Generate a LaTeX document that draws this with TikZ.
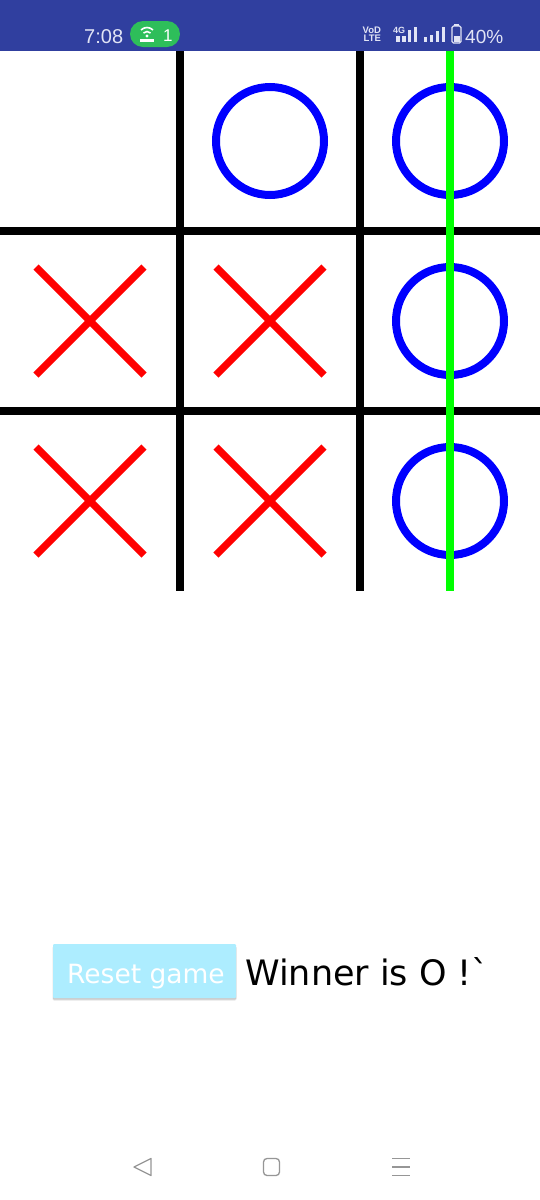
\documentclass[tikz,border=0pt]{standalone}
\usepackage{xcolor}
\usepackage{fontspec}
\setmainfont{Liberation Sans}
\newfontfamily\handfont{DejaVu Sans}
\definecolor{barblue}{RGB}{48,63,159}
\definecolor{pillgreen}{RGB}{46,190,90}
\definecolor{barwhite}{RGB}{225,228,245}
\definecolor{resetblue}{RGB}{173,237,255}
\definecolor{navgray}{RGB}{150,150,150}
\definecolor{winline}{RGB}{0,255,0}
\begin{document}
\begin{tikzpicture}[x=1pt,y=-1pt,
  gridline/.style={line width=8pt,black},
  oh/.style={line width=8pt,blue},
  ex/.style={line width=7.2pt,red},
  navline/.style={line width=1.3pt,navgray},
  bartext/.style={text=barwhite,inner sep=0pt,anchor=base west},
  barbit/.style={fill=barwhite,draw=none}]
\useasboundingbox (0,0) rectangle (540,1200);
\fill[white] (0,0) rectangle (540,1200);
% status bar
\fill[barblue] (0,0) rectangle (540,51);
\node[bartext,font=\fontsize{20}{20}\selectfont] (clock) at (84,43) {7:08};
\fill[pillgreen,rounded corners=13pt] (130,21) rectangle (180,47);
\draw[white,line width=1.6pt] (141,30) arc (-135:-45:8.5);
\draw[white,line width=1.6pt] (143.5,33) arc (-135:-45:5);
\fill[white] (147,36) circle (1.6);
\fill[white] (140,39) rectangle (154,42);
\node[inner sep=0pt,anchor=base west,text=white,font=\fontsize{17}{17}\selectfont] (hotspot) at (163,41) {1};
\node[bartext,font=\bfseries\fontsize{9.5}{9.5}\selectfont] (vod) at (362.5,33.5) {VoD};
\node[bartext,font=\bfseries\fontsize{9.5}{9.5}\selectfont] (lte) at (363.5,41.5) {LTE};
\node[bartext,font=\bfseries\fontsize{9}{9}\selectfont] (fourg) at (393,33) {4G};
\fill[barbit] (396,36) rectangle (399.5,42);
\fill[barbit] (402,36) rectangle (405.5,42);
\fill[barbit] (408,30) rectangle (411,42);
\fill[barbit] (414,27) rectangle (417,42);
\fill[barbit] (424,37) rectangle (427,42);
\fill[barbit] (430,35) rectangle (433,42);
\fill[barbit] (436,31) rectangle (439,42);
\fill[barbit] (442,27) rectangle (445,42);
\draw[barwhite,line width=1.3pt,rounded corners=1.5pt] (452,26) rectangle (461,43);
\fill[barbit] (454,24) rectangle (459,26);
\fill[barbit] (453.5,36) rectangle (459.5,41.5);
\node[bartext,font=\fontsize{19}{20}\selectfont] (level) at (465,43) {40\%};
% board
\draw[gridline] (180,51) -- (180,591);
\draw[gridline] (360,51) -- (360,591);
\draw[gridline] (0,231) -- (540,231);
\draw[gridline] (0,411) -- (540,411);
\draw[oh] (270,141) circle (54);
\draw[oh] (450,141) circle (54);
\draw[oh] (450,321) circle (54);
\draw[oh] (450,501) circle (54);
\foreach \i/\j in {90/321,270/321,90/501,270/501} {
  \draw[ex] (\i-54,\j-54) -- (\i+54,\j+54);
  \draw[ex] (\i+54,\j-54) -- (\i-54,\j+54);
}
\draw[line width=8pt,winline] (450,51) -- (450,591);
% bottom row
\fill[gray!20,rounded corners=1.5pt] (52.5,946) rectangle (236.5,1000.5);
\fill[gray!40,rounded corners=1pt] (53,946) rectangle (236,999.5);
\fill[resetblue,rounded corners=1pt] (53,944) rectangle (236,998);
\node[inner sep=0pt,anchor=base west,text=white,font=\handfont\fontsize{26.5}{27}\selectfont] (reset) at (67,983) {Reset game};
\node[inner sep=0pt,anchor=base west,text=black,font=\handfont\fontsize{35}{36}\selectfont] (winner) at (245,985) {Winner is O !`};
% nav bar
\draw[navline,line join=round] (151,1158.5) -- (134,1167) -- (151,1175.5) -- cycle;
\draw[navline,rounded corners=3.5pt] (263.5,1158.5) rectangle (279.5,1175.5);
\draw[navline] (392,1158.5) -- (410,1158.5);
\draw[navline] (392,1167) -- (410,1167);
\draw[navline] (392,1175.5) -- (410,1175.5);
\end{tikzpicture}
\end{document}
